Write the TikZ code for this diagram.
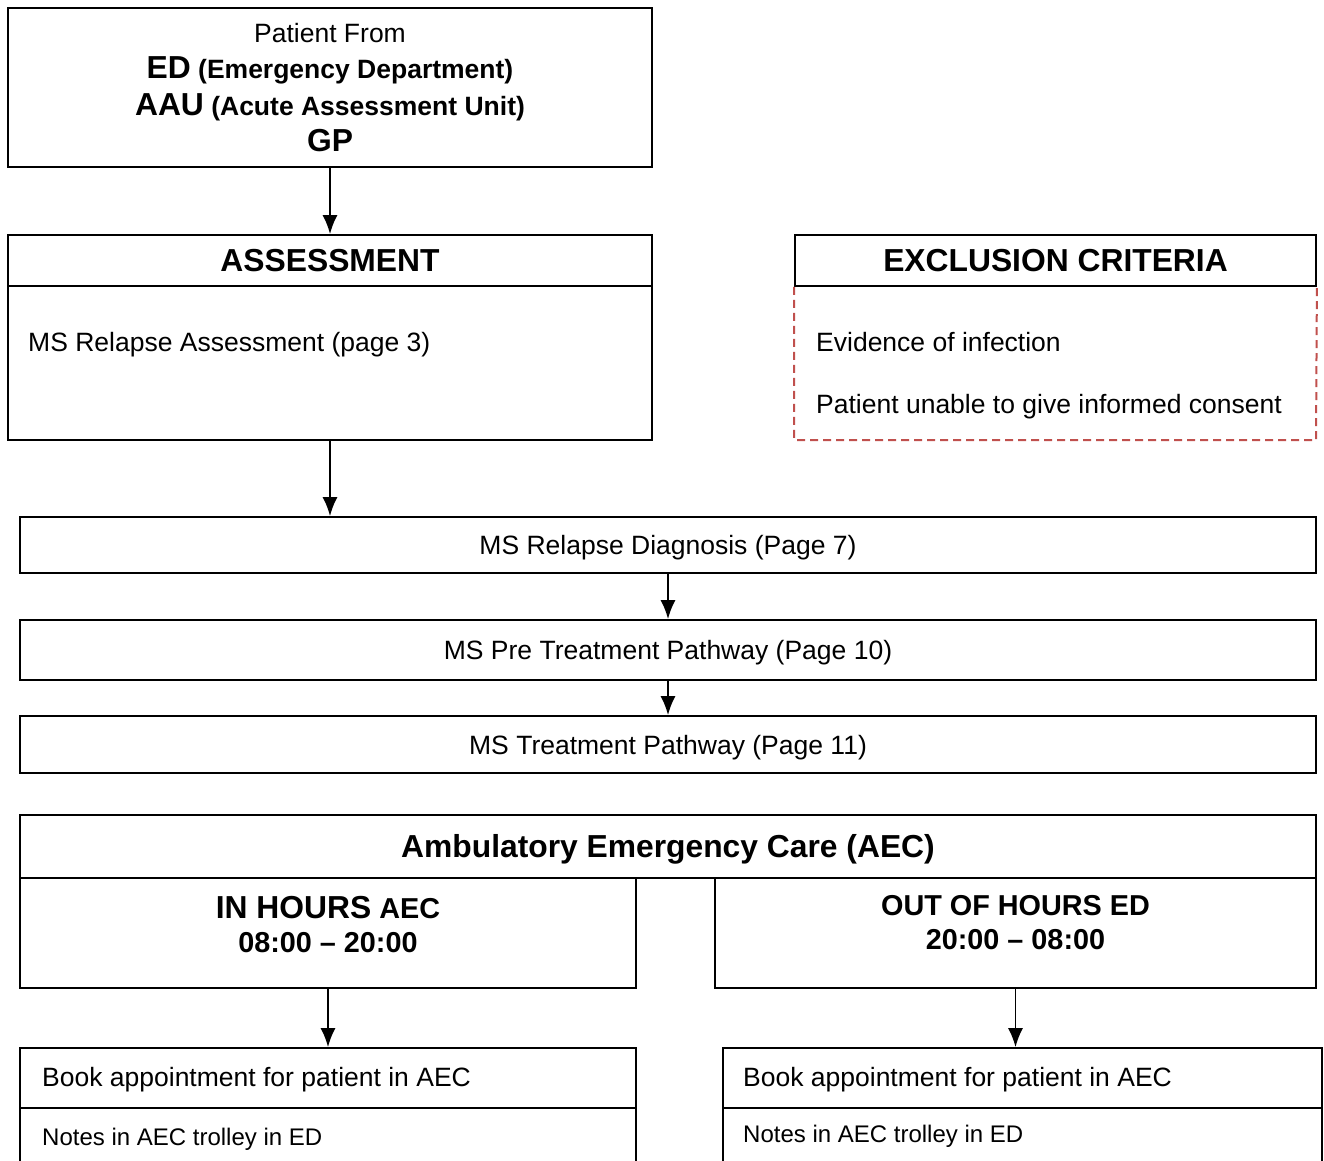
\documentclass[tikz,border=0pt]{standalone}
\usepackage{fontspec}
\setmainfont{Liberation Sans}
\usetikzlibrary{arrows.meta}

\definecolor{exred}{RGB}{192,80,77}

\newcommand{\sztext}{\fontsize{26.5}{36.5}\selectfont}
\newcommand{\szhead}{\fontsize{31.8}{38}\selectfont}
\newcommand{\szhour}{\fontsize{28.8}{34}\selectfont}
\newcommand{\sznote}{\fontsize{24}{28}\selectfont}

\begin{document}
\begin{tikzpicture}[x=1pt,y=-1pt,
  box/.style={draw, rectangle, line width=1.8pt, inner sep=0pt},
  oneline/.style={text height=19pt, text depth=0pt},
  lbl/.style={inner sep=0pt, anchor=west, font=\sztext, oneline},
  flow/.style={-{Latex[length=19pt,width=15pt]}, line width=1.8pt}]
\useasboundingbox (0,0) rectangle (1324,1160);
\clip (0,0) rectangle (1324,1160);

% Where the patient comes from
\node[box, minimum width=644, minimum height=159, align=center, font=\sztext] (src) at (330,87.5) {
    Patient From\\
    {\szhead\bfseries ED} {\bfseries (Emergency Department)}\\
    {\szhead\bfseries AAU} {\bfseries (Acute Assessment Unit)}\\
    {\szhead\bfseries GP}
};

% Assessment
\node[box, minimum width=644, minimum height=51, font=\szhead\bfseries] (asshead) at (330,260.5) {ASSESSMENT};
\node[box, minimum width=644, minimum height=154] (assbody) at (330,363) {};
\node[lbl] (asstext) at (28,342) {MS Relapse Assessment (page 3)};

% Exclusion criteria
\node[box, minimum width=521, minimum height=51, font=\szhead\bfseries] (exhead) at (1055.5,260.5) {EXCLUSION CRITERIA};
\coordinate (excorner) at (1316,440);
\draw[exred, line width=2pt, dash pattern=on 8pt off 5pt] (exhead.south west) |- (excorner) -- (exhead.south east);
\node[lbl] (exinf) at (816,342) {Evidence of infection};
\node[lbl] (excons) at (816,404) {Patient unable to give informed consent};

% Pathway steps
\node[box, oneline, minimum width=1296, minimum height=56, font=\sztext] (diag) at (668,545) {MS Relapse Diagnosis (Page 7)};
\node[box, oneline, minimum width=1296, minimum height=60, font=\sztext] (pre) at (668,650) {MS Pre Treatment Pathway (Page 10)};
\node[box, oneline, minimum width=1296, minimum height=57, font=\sztext] (treat) at (668,744.5) {MS Treatment Pathway (Page 11)};

% AEC
\node[box, text height=22.8pt, text depth=0pt, minimum width=1296, minimum height=63, font=\szhead\bfseries] (aec) at (668,846.5) {Ambulatory Emergency Care (AEC)};
\node[box, minimum width=616, minimum height=110] (inh) at (328,933) {};
\node[box, minimum width=601, minimum height=110] (outh) at (1015.5,933) {};
\node[inner sep=0pt, align=center, font=\szhour\bfseries] (inhtext) at (328,924.5) {{\szhead IN HOURS} AEC\\08:00 – 20:00};
\node[inner sep=0pt, align=center, font=\szhour\bfseries] (outhtext) at (1015.5,923) {OUT OF HOURS ED\\20:00 – 08:00};

% Booking
\node[box, minimum width=616, minimum height=60] (bookl) at (328,1078) {};
\node[box, minimum width=616, minimum height=82] (notesl) at (328,1149) {};
\node[box, minimum width=599, minimum height=60] (bookr) at (1022.5,1078) {};
\node[box, minimum width=599, minimum height=82] (notesr) at (1022.5,1149) {};
\node[lbl] (bookltext) at (42,1077) {Book appointment for patient in AEC};
\node[lbl, font=\sznote, text height=17.2pt] (notesltext) at (42,1137) {Notes in AEC trolley in ED};
\node[lbl] (bookrtext) at (743,1077) {Book appointment for patient in AEC};
\node[lbl, font=\sznote, text height=17.2pt] (notesrtext) at (743,1134) {Notes in AEC trolley in ED};

% Arrows
\draw[flow] (src) -- (asshead);
\draw[flow] (assbody.south) -- (assbody.south |- diag.north);
\draw[flow] (diag) -- (pre);
\draw[flow] (pre) -- (treat);
\draw[flow] (inh.south) -- (inh.south |- bookl.north);
\draw[flow] (outh.south) -- (outh.south |- bookr.north);
\end{tikzpicture}
\end{document}
